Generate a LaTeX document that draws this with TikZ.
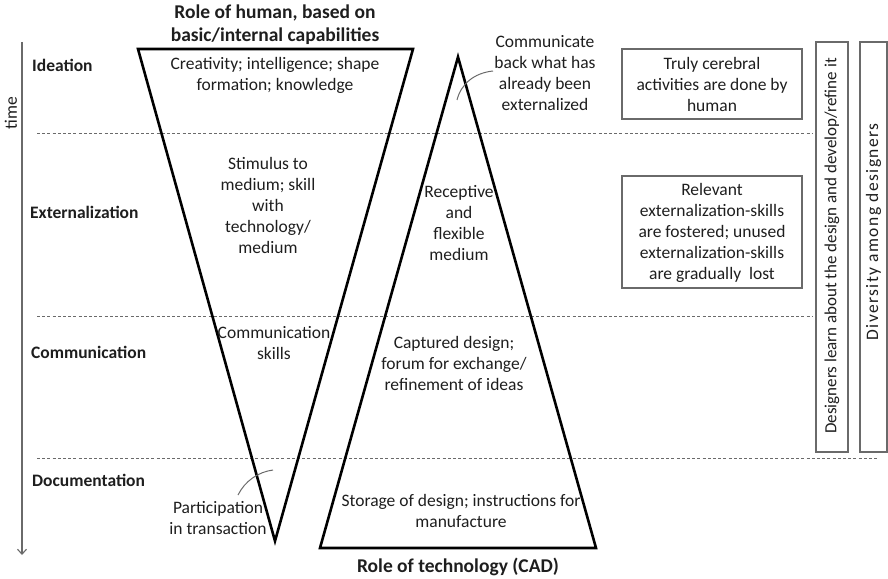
\documentclass[tikz,border=0pt]{standalone}
\usepackage{fontspec}
\setmainfont{Carlito}
\newfontfamily\spacedfont[LetterSpace=8]{Carlito}
\usetikzlibrary{arrows.meta}
\definecolor{ink}{HTML}{1E1E1E}
\definecolor{rule}{HTML}{6A6A6A}
\begin{document}
\begin{tikzpicture}[x=1pt,y=-1pt,
  txt/.style={text=ink,align=center,inner sep=0pt,font=\fontsize{17.5}{21}\selectfont},
  phase/.style={text=ink,anchor=west,inner sep=0pt,font=\fontsize{17.5}{20}\selectfont\bfseries},
  heading/.style={text=ink,align=center,inner sep=0pt,font=\fontsize{19.5}{23}\selectfont\bfseries},
  divider/.style={draw=rule,line width=0.9pt,dash pattern=on 3pt off 2.2pt},
  wedge/.style={draw=black,line width=2.6pt,line join=miter},
  panel/.style={draw=rule,line width=1.2pt,inner sep=0pt},
  leader/.style={draw=rule,line width=1pt},
  vtext/.style={text=ink,inner sep=0pt,rotate=90,font=\fontsize{17}{20}\selectfont}]
\useasboundingbox (0,0) rectangle (888,578);

% time axis
\coordinate (tTop) at (22,42);
\coordinate (tEnd) at (22,555);
\draw[draw=rule,line width=1.2pt,-{Straight Barb[length=5pt,width=9pt,line width=1.1pt]}] (tTop) -- (tEnd);
\node[text=ink,rotate=90,inner sep=0pt,font=\fontsize{17.5}{20}\selectfont] (timeLbl) at (11,113) {time};

% phase dividers
\coordinate (d1a) at (37,133);  \coordinate (d1b) at (812,133);
\coordinate (d2a) at (37,316);  \coordinate (d2b) at (813,316);
\coordinate (d3a) at (37,458);  \coordinate (d3b) at (877,458);
\draw[divider] (d1a) -- (d1b);
\draw[divider] (d2a) -- (d2b);
\draw[divider] (d3a) -- (d3b);

% phase labels
\node[phase] (ideation) at (32,65) {Ideation};
\node[phase] (extern) at (30,212) {Externalization};
\node[phase] (commun) at (31,352) {Communication};
\node[phase] (docu) at (32,480) {Documentation};

% human wedge (inverted) and technology wedge
\coordinate (hL) at (138,49); \coordinate (hR) at (413,49); \coordinate (hApex) at (275,541);
\coordinate (tApex) at (458,57); \coordinate (tL) at (320,548); \coordinate (tR) at (596,548);
\draw[wedge] (hL) -- (hR) -- (hApex) -- cycle;
\draw[wedge] (tApex) -- (tR) -- (tL) -- cycle;

% headings
\node[heading] (humanTitle) at (275,25) {Role of human, based on\\basic/internal capabilities};
\node[heading] (techTitle) at (458,567) {Role of technology (CAD)};

% human wedge texts
\node[txt] (creat) at (275,75) {Creativity; intelligence; shape\\formation; knowledge};
\node[txt] (stim) at (268,205) {Stimulus to\\medium; skill\\with\\technology/\\medium};
\node[txt] (commSk) at (274,343) {Communication\\skills};
\node[txt] (partic) at (218,518.5) {Participation\\in transaction};

% technology wedge texts
\node[txt] (commBack) at (545,73.5) {Communicate\\back what has\\already been\\externalized};
\node[txt] (recep) at (459,223.5) {Receptive\\and\\flexible\\medium};
\node[txt] (capt) at (454,363) {Captured design;\\forum for exchange/\\refinement of ideas};
\node[txt] (store) at (461,511) {Storage of design; instructions for\\manufacture};

% leader lines
\coordinate (lcA) at (457,100); \coordinate (lcB) at (493,71);
\draw[leader] (lcA) .. controls (461,84) and (474,73) .. (lcB);
\coordinate (lpA) at (238,495); \coordinate (lpB) at (273,470);
\draw[leader] (lpA) .. controls (245,481) and (258,472) .. (lpB);

% consequence panels
\node[panel,minimum width=180pt,minimum height=70pt] (cereb) at (712,84) {};
\node[txt] (cerebTxt) at (712,84) {Truly cerebral\\activities are done by\\human};
\node[panel,minimum width=180pt,minimum height=112pt] (relev) at (712,232) {};
\node[txt] (relevTxt) at (712,232.5) {Relevant\\externalization-skills\\are fostered; unused\\externalization-skills\\are gradually\ \ lost};

% vertical panels
\node[panel,minimum width=32pt,minimum height=410pt] (learn) at (832,247) {};
\node[vtext] (learnTxt) at (832,246) {Designers learn about the design and develop/refine it};
\node[panel,minimum width=27pt,minimum height=410pt] (divers) at (873.5,247) {};
\node[vtext,font=\spacedfont\fontsize{17.5}{20}\selectfont] (diversTxt) at (873.5,232) {Diversity among designers};
\end{tikzpicture}
\end{document}
